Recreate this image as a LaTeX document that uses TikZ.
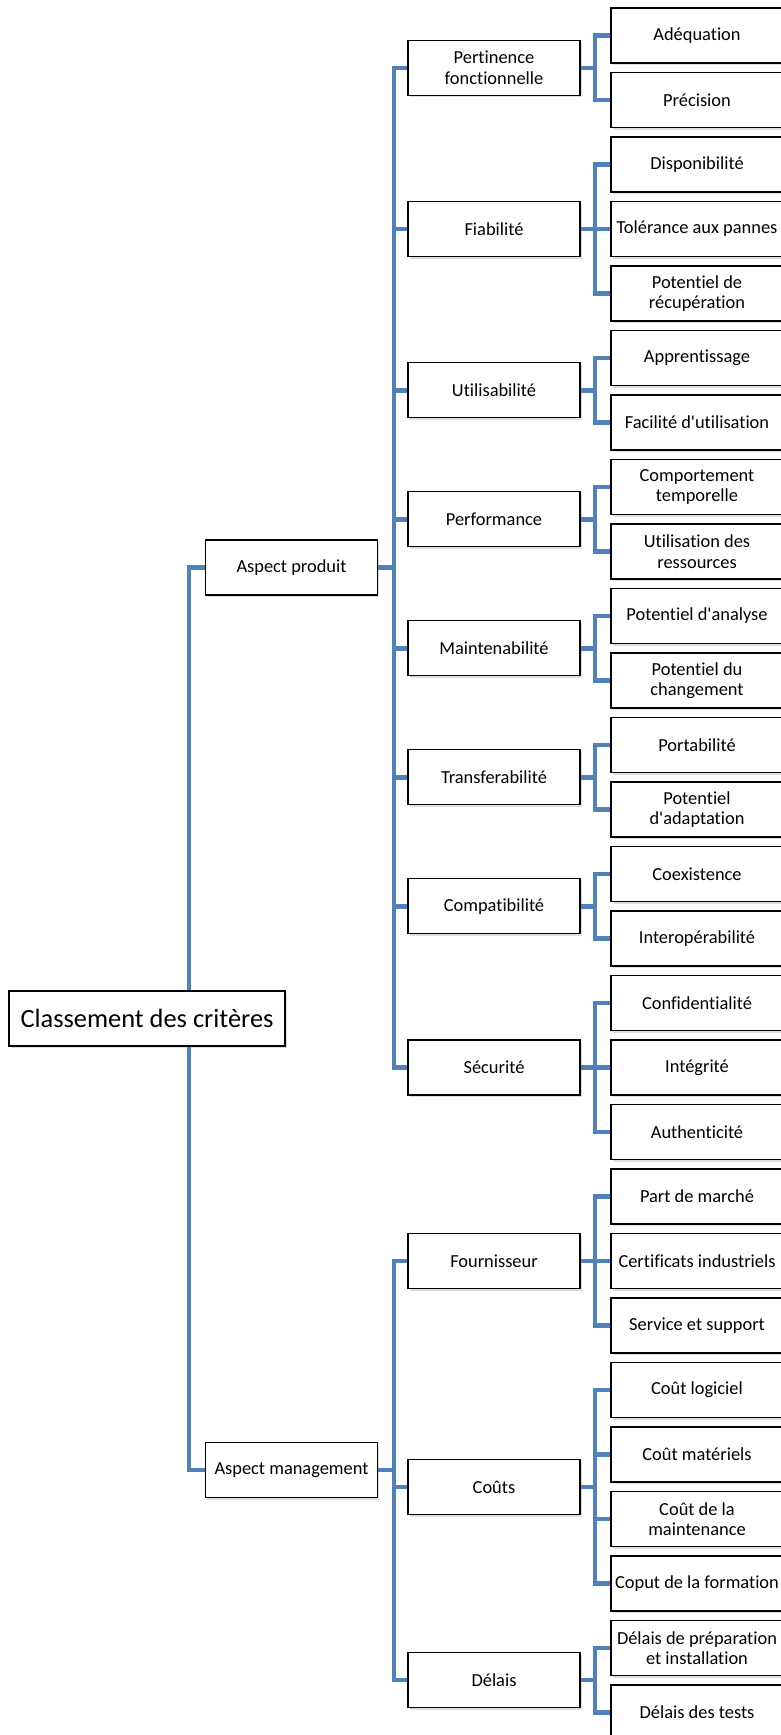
\documentclass[tikz,border=0pt]{standalone}
\usepackage{fontspec}
\setmainfont{Carlito}[Ligatures={TeXOff,NoCommon}]
\usetikzlibrary{shadows,backgrounds}
\definecolor{linkblue}{HTML}{4F81BD}
\tikzset{
  box/.style={draw=black, line width=1.3pt, fill=white, align=center,
    minimum width=172pt, minimum height=55pt, inner sep=1pt,
    font=\fontsize{18.4}{20.5}\selectfont,
    drop shadow={opacity=0.25, shadow xshift=1.5pt, shadow yshift=-2pt}},
  rootbox/.style={box, minimum width=276pt, font=\fontsize{26.4}{30}\selectfont},
  link/.style={draw=linkblue, line width=4.5pt, line cap=butt, line join=miter}
}
\begin{document}
\begin{tikzpicture}[x=1pt, y=-1pt]
\useasboundingbox (0,0) rectangle (781,1735);

% root and top-level aspects
\node[rootbox] (root) at (147,1018.5) {Classement des critères};
\node[box] (ap) at (291.5,567.5) {Aspect produit};
\node[box] (am) at (291.5,1470) {Aspect management};

% second level
\node[box] (pf) at (494,67.75)   {Pertinence\\fonctionnelle};
\node[box] (fi) at (494,229)     {Fiabilité};
\node[box] (ut) at (494,390.25)  {Utilisabilité};
\node[box] (pe) at (494,519.25)  {Performance};
\node[box] (ma) at (494,648.25)  {Maintenabilité};
\node[box] (tr) at (494,777.25)  {Transferabilité};
\node[box] (co) at (494,906.25)  {Compatibilité};
\node[box] (se) at (494,1067.5)  {Sécurité};
\node[box] (fo) at (494,1261)    {Fournisseur};
\node[box] (ct) at (494,1487)    {Coûts};
\node[box] (de) at (494,1680)    {Délais};

% leaves, one every 64.5pt
\foreach \i/\t in {
  0/Adéquation, 1/Précision, 2/Disponibilité, 3/Tolérance aux pannes,
  4/{Potentiel de\\récupération}, 5/Apprentissage, 6/Facilité d'utilisation,
  7/{Comportement\\temporelle}, 8/{Utilisation des\\ressources},
  9/Potentiel d'analyse, 10/{Potentiel du\\changement}, 11/Portabilité,
  12/{Potentiel\\d'adaptation}, 13/Coexistence, 14/Interopérabilité,
  15/Confidentialité, 16/Intégrité, 17/Authenticité, 18/Part de marché,
  19/Certificats industriels, 20/Service et support, 21/Coût logiciel,
  22/Coût matériels, 23/{Coût de la\\maintenance}, 24/Coput de la formation,
  25/{Délais de préparation\\et installation}, 26/Délais des tests}
  \node[box] (l\i) at (697,35.5+64.5*\i) {\t};

% vertical bus positions
\coordinate (b1) at (189,0);
\coordinate (b2) at (394,0);
\coordinate (b3) at (595,0);

\begin{scope}[on background layer]
  \foreach \c in {ap,am}
    \draw[link] (root.center -| b1) |- (\c.west);
  \foreach \p/\cs in {ap/{pf,fi,ut,pe,ma,tr,co,se}, am/{fo,ct,de}}
    \foreach \c in \cs
      \draw[link] (\p.east) -- (\p.east -| b2) |- (\c.west);
  \foreach \p/\cs in {pf/{0,1}, fi/{2,3,4}, ut/{5,6}, pe/{7,8}, ma/{9,10},
      tr/{11,12}, co/{13,14}, se/{15,16,17}, fo/{18,19,20},
      ct/{21,22,23,24}, de/{25,26}}
    \foreach \c in \cs
      \draw[link] (\p.east) -- (\p.east -| b3) |- (l\c.west);
\end{scope}
\end{tikzpicture}
\end{document}
